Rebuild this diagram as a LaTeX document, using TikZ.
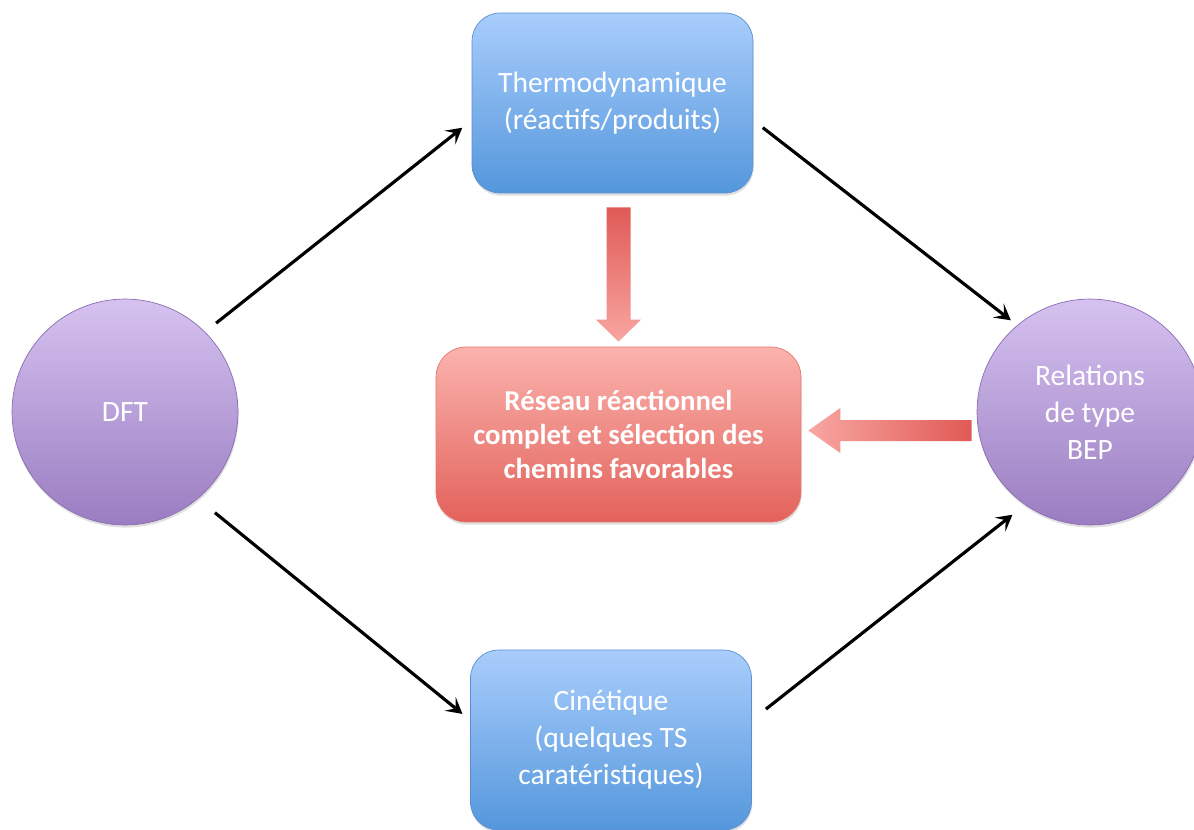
\documentclass[tikz,border=0pt]{standalone}
\usepackage{fontspec}
\setmainfont{Carlito}
\usetikzlibrary{calc,arrows.meta,shadows}

\definecolor{boxtop}{HTML}{A9CDFC}
\definecolor{boxbot}{HTML}{5497DC}
\definecolor{boxline}{HTML}{5B8ED0}
\definecolor{circtop}{HTML}{D6C2F0}
\definecolor{circbot}{HTML}{9A7DC1}
\definecolor{circline}{HTML}{8A6DB3}
\definecolor{redtop}{HTML}{FBB3AE}
\definecolor{redbot}{HTML}{E3625B}
\definecolor{redline}{HTML}{E87770}
\definecolor{arrdark}{HTML}{E05A56}
\definecolor{arrlight}{HTML}{F8A6A1}

\begin{document}
\begin{tikzpicture}[x=0.02cm, y=-0.02cm,
		bluebox/.style={draw=boxline, thin, rounded corners=0.56cm, top color=boxtop, bottom color=boxbot,
			minimum width=5.62cm, minimum height=3.6cm, align=center, text=white,
			font=\fontsize{16.8}{21}\selectfont, drop shadow={opacity=0.25, shadow xshift=0.4pt, shadow yshift=-1.5pt}},
		purplecirc/.style={draw=circline, thin, circle, top color=circtop, bottom color=circbot,
			minimum size=4.52cm, align=center, text=white, font=\fontsize{16.8}{21}\selectfont,
			drop shadow={opacity=0.25, shadow xshift=0.4pt, shadow yshift=-1.5pt}},
		redbox/.style={draw=redline, thin, rounded corners=0.6cm, top color=redtop, bottom color=redbot,
			minimum width=7.3cm, minimum height=3.5cm, align=center, text=white,
			font=\fontsize{16.4}{19.6}\selectfont\bfseries,
			drop shadow={opacity=0.25, shadow xshift=0.4pt, shadow yshift=-1.5pt}},
		link/.style={line width=1.8pt, -{Stealth[length=9pt, width=10pt, inset=4pt]}}]
	\useasboundingbox (0,0) rectangle (1194,829);
	
	% nodes
	\node[bluebox] (thermo) at (612.5,103) {Thermodynamique\\(réactifs/produits)};
	\node[bluebox] (cine) at (611,740) {Cinétique\\(quelques TS\\caratéristiques)};
	\node[redbox] (reseau) at (618.5,434.5) {Réseau réactionnel\\complet et sélection des\\chemins favorables};
	\node[purplecirc] (dft) at (125,412) {DFT};
	\node[purplecirc] (bep) at (1090,412) {Relations\\de type\\BEP};
	
	% black arrows
	\draw[link, shorten <=0.28cm, shorten >=0.24cm] (dft.45) -- (thermo.187);
	\draw[link, shorten <=0.24cm, shorten >=0.16cm] (thermo.-7) -- (bep.130);
	\draw[link, shorten <=0.44cm, shorten >=0.2cm] (dft.-50) -- (cine.172);
	\draw[link, shorten <=0.36cm, shorten >=0.32cm] (cine.8) -- (bep.-125);
	
	% fat red arrows
	\coordinate (dtop) at ($(thermo.south -| reseau.north)+(0,14)$);
	\coordinate (dtip) at ($(reseau.north)+(0,-5)$);
	\shade[top color=arrdark, bottom color=arrlight]
		($(dtop)+(-12,0)$) -- ($(dtip)+(-12,-22)$) -- ($(dtip)+(-22.5,-22)$) -- (dtip)
		-- ($(dtip)+(22.5,-22)$) -- ($(dtip)+(12,-22)$) -- ($(dtop)+(12,0)$) -- cycle;
	
	\coordinate (ltip) at ($(reseau.east)+(7,-4)$);
	\coordinate (lend) at ($(bep.west |- ltip)+(-5,0)$);
	\shade[right color=arrdark, left color=arrlight]
		($(lend)+(0,-10.5)$) -- ($(ltip)+(32,-10.5)$) -- ($(ltip)+(32,-22.5)$) -- (ltip)
		-- ($(ltip)+(32,22.5)$) -- ($(ltip)+(32,10.5)$) -- ($(lend)+(0,10.5)$) -- cycle;
\end{tikzpicture}
\end{document}
